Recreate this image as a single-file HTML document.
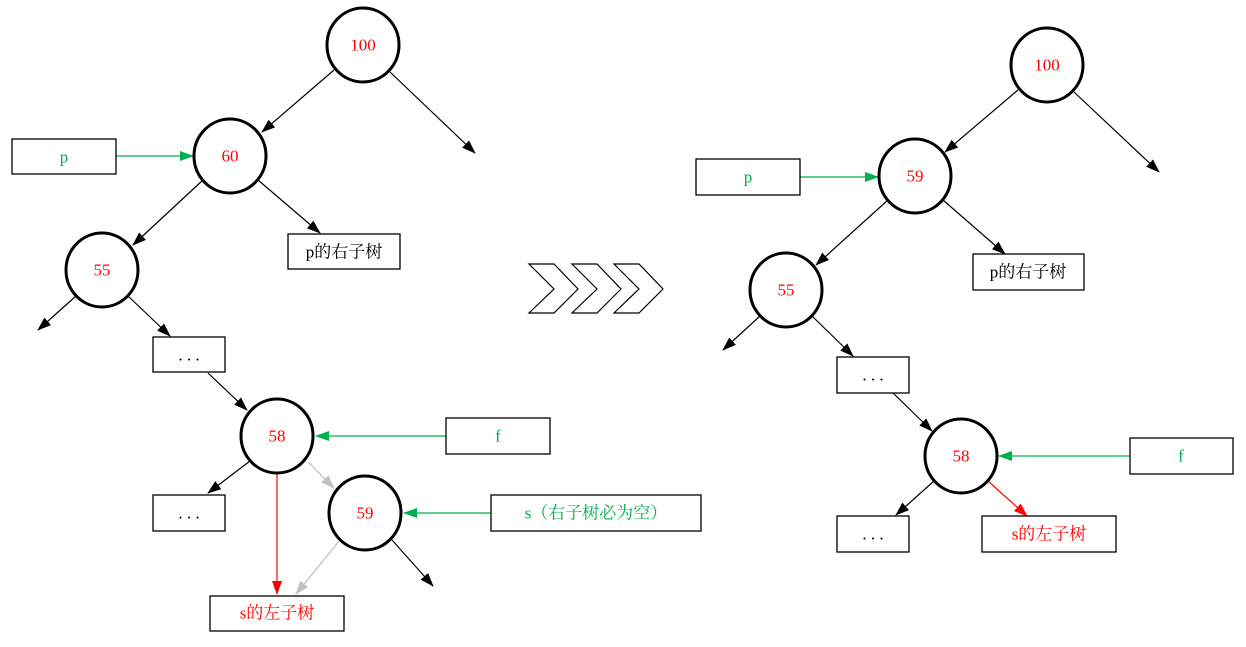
<!DOCTYPE html>
<html><head><meta charset="utf-8"><style>
html,body{margin:0;padding:0;background:#fff;}
text{font-family:"Liberation Serif","Noto Serif CJK SC",serif;font-size:17px;text-anchor:middle;dominant-baseline:central;}
</style></head><body>
<svg width="1246" height="642" viewBox="0 0 1246 642" xmlns="http://www.w3.org/2000/svg">
<defs>
<marker id="ak" markerWidth="14" markerHeight="10" refX="13" refY="5" orient="auto" markerUnits="userSpaceOnUse"><path d="M0,0 L14,5 L0,10z" fill="#000"/></marker>
<marker id="ag" markerWidth="14" markerHeight="10" refX="13" refY="5" orient="auto" markerUnits="userSpaceOnUse"><path d="M0,0 L14,5 L0,10z" fill="#00b050"/></marker>
<marker id="ar" markerWidth="14" markerHeight="10" refX="13" refY="5" orient="auto" markerUnits="userSpaceOnUse"><path d="M0,0 L14,5 L0,10z" fill="#f00"/></marker>
<marker id="ay" markerWidth="14" markerHeight="10" refX="13" refY="5" orient="auto" markerUnits="userSpaceOnUse"><path d="M0,0 L14,5 L0,10z" fill="#c0c0c0"/></marker>
</defs>
<g stroke-width="1.2" fill="none">
<!-- left tree -->
<line x1="390" y1="72" x2="475" y2="153" stroke="#000" marker-end="url(#ak)"/>
<line x1="334" y1="70" x2="262" y2="132" stroke="#000" marker-end="url(#ak)"/>
<line x1="258" y1="180" x2="320" y2="233" stroke="#000" marker-end="url(#ak)"/>
<line x1="203" y1="180" x2="133" y2="245" stroke="#000" marker-end="url(#ak)"/>
<line x1="76" y1="296" x2="38" y2="330" stroke="#000" marker-end="url(#ak)"/>
<line x1="128" y1="296" x2="170" y2="336" stroke="#000" marker-end="url(#ak)"/>
<line x1="208" y1="373" x2="247" y2="410" stroke="#000" marker-end="url(#ak)"/>
<line x1="250" y1="461" x2="208" y2="493" stroke="#000" marker-end="url(#ak)"/>
<line x1="308" y1="462" x2="334" y2="488" stroke="#c0c0c0" marker-end="url(#ay)"/>
<line x1="277" y1="473" x2="277" y2="594" stroke="#f00" marker-end="url(#ar)"/>
<line x1="340" y1="540" x2="296" y2="594" stroke="#c0c0c0" marker-end="url(#ay)"/>
<line x1="392" y1="540" x2="433" y2="586" stroke="#000" marker-end="url(#ak)"/>
<line x1="446" y1="436" x2="316" y2="436" stroke="#00b050" marker-end="url(#ag)"/>
<line x1="491" y1="513" x2="404" y2="513" stroke="#00b050" marker-end="url(#ag)"/>
<line x1="116" y1="156" x2="193" y2="156" stroke="#00b050" marker-end="url(#ag)"/>
<!-- right tree -->
<line x1="1074" y1="92" x2="1159" y2="172" stroke="#000" marker-end="url(#ak)"/>
<line x1="1018" y1="90" x2="945" y2="152" stroke="#000" marker-end="url(#ak)"/>
<line x1="943" y1="200" x2="1005" y2="254" stroke="#000" marker-end="url(#ak)"/>
<line x1="888" y1="200" x2="816" y2="265" stroke="#000" marker-end="url(#ak)"/>
<line x1="760" y1="316" x2="723" y2="350" stroke="#000" marker-end="url(#ak)"/>
<line x1="812" y1="316" x2="853" y2="356" stroke="#000" marker-end="url(#ak)"/>
<line x1="893" y1="393" x2="932" y2="431" stroke="#000" marker-end="url(#ak)"/>
<line x1="934" y1="481" x2="896" y2="515" stroke="#000" marker-end="url(#ak)"/>
<line x1="988" y1="481" x2="1027" y2="516" stroke="#f00" marker-end="url(#ar)"/>
<line x1="1130" y1="456" x2="999" y2="456" stroke="#00b050" marker-end="url(#ag)"/>
<line x1="800" y1="177" x2="878" y2="177" stroke="#00b050" marker-end="url(#ag)"/>
</g>
<g fill="#fff" stroke="#000" stroke-width="3">
<ellipse cx="363" cy="45" rx="36" ry="37"/>
<ellipse cx="230" cy="156" rx="36" ry="37"/>
<ellipse cx="102" cy="270" rx="36" ry="37"/>
<ellipse cx="277" cy="436" rx="36" ry="37"/>
<ellipse cx="365" cy="513" rx="36" ry="37"/>
<ellipse cx="1047" cy="65" rx="36" ry="37"/>
<ellipse cx="915" cy="176" rx="36" ry="37"/>
<ellipse cx="786" cy="290" rx="36" ry="37"/>
<ellipse cx="961" cy="456" rx="36" ry="37"/>
</g>
<g fill="#fff" stroke="#000" stroke-width="1.3">
<rect x="12" y="139" width="104" height="35"/>
<rect x="288" y="234" width="112" height="35"/>
<rect x="153" y="337" width="72" height="35"/>
<rect x="446" y="418" width="104" height="36"/>
<rect x="153" y="495" width="72" height="36"/>
<rect x="491" y="495" width="210" height="36"/>
<rect x="210" y="596" width="134" height="35"/>
<rect x="696" y="159" width="104" height="36"/>
<rect x="973" y="254" width="111" height="36"/>
<rect x="837" y="357" width="72" height="36"/>
<rect x="1130" y="438" width="103" height="36"/>
<rect x="837" y="516" width="72" height="36"/>
<rect x="982" y="516" width="134" height="36"/>
</g>
<g fill="#fff" stroke="#000" stroke-width="1.2">
<path d="M529,264 L554,264 L578,289 L554,313 L529,313 L554,289z"/>
<path d="M572,264 L597,264 L621,289 L597,313 L572,313 L597,289z"/>
<path d="M614,264 L639,264 L663,289 L639,313 L614,313 L639,289z"/>
</g>
<g fill="#f00">
<text x="363" y="45">100</text><text x="230" y="156">60</text><text x="102" y="270">55</text>
<text x="277" y="436">58</text><text x="365" y="513">59</text>
<text x="1047" y="65">100</text><text x="915" y="176">59</text><text x="786" y="290">55</text><text x="961" y="456">58</text>
<text x="277" y="613">s的左子树</text><text x="1049" y="534">s的左子树</text>
</g>
<g fill="#00b050">
<text x="64" y="157">p</text><text x="498" y="436">f</text><text x="596" y="513">s（右子树必为空）</text>
<text x="748" y="177">p</text><text x="1181" y="456">f</text>
</g>
<g fill="#000">
<text x="344" y="252">p的右子树</text><text x="189" y="355">. . .</text><text x="189" y="513">. . .</text>
<text x="1028" y="272">p的右子树</text><text x="873" y="375">. . .</text><text x="873" y="534">. . .</text>
</g>
</svg>
</body></html>
